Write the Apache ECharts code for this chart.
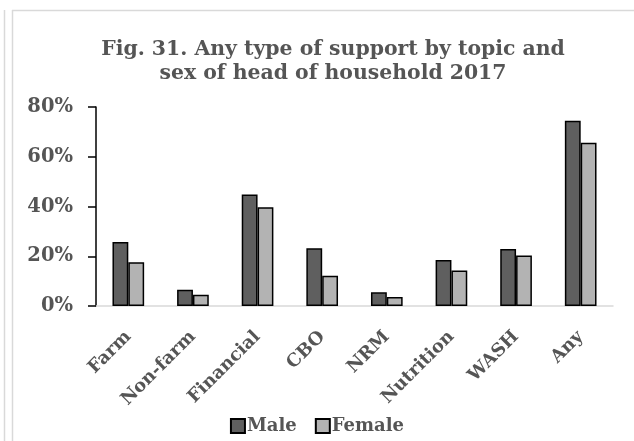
<!DOCTYPE html>
<html>
<head>
<meta charset="utf-8">
<script src="https://cdn.jsdelivr.net/npm/echarts@6/dist/echarts.min.js"></script>
<style>
  html, body { margin: 0; padding: 0; background: #fff; }
  #chart { width: 634px; height: 441px; }
</style>
</head>
<body>
<div id="chart"></div>
<script>
var categories = ['Farm', 'Non-farm', 'Financial', 'CBO', 'NRM', 'Nutrition', 'WASH', 'Any'];
var male = [25.7, 6.5, 44.8, 23.2, 5.5, 18.5, 22.9, 74.5];
var female = [17.6, 4.5, 39.7, 12.2, 3.6, 14.3, 20.3, 65.6];
var yTicks = [0, 20, 40, 60, 80];

var font = '"DejaVu Serif", serif';
var textGray = '#555555';

var chart = echarts.init(document.getElementById('chart'));
chart.setOption({
  backgroundColor: '#ffffff',
  animation: false,
  graphic: [
    { type: 'line', shape: { x1: 4.5, y1: 10, x2: 4.5, y2: 441 }, style: { stroke: '#d9d9d9', lineWidth: 1.5 } },
    { type: 'line', shape: { x1: 12.5, y1: 10, x2: 12.5, y2: 441 }, style: { stroke: '#d9d9d9', lineWidth: 1.5 } },
    { type: 'line', shape: { x1: 12, y1: 10.5, x2: 634, y2: 10.5 }, style: { stroke: '#d9d9d9', lineWidth: 1.5 } }
  ],
  title: {
    text: 'Fig. 31. Any type of support by topic and\nsex of head of household 2017',
    left: 328,
    top: 33,
    textAlign: 'center',
    textStyle: {
      fontFamily: font,
      fontWeight: 'bold',
      fontSize: 20.4,
      lineHeight: 24,
      color: textGray
    }
  },
  legend: {
    top: 412,
    left: 'center',
    itemWidth: 14,
    itemHeight: 14,
    itemGap: 18,
    icon: 'rect',
    textStyle: { fontFamily: font, fontWeight: 'bold', fontSize: 18, color: textGray, padding: [0, 0, 0, -3] },
    data: ['Male', 'Female']
  },
  grid: { left: 96, right: 21, top: 107, bottom: 135 },
  xAxis: {
    type: 'category',
    data: categories,
    axisLine: { lineStyle: { color: '#d9d9d9', width: 1.5 } },
    axisTick: { show: false },
    axisLabel: {
      rotate: 45,
      interval: 0,
      margin: 28,
      fontFamily: font,
      fontWeight: 'bold',
      fontSize: 18,
      color: textGray
    }
  },
  yAxis: {
    type: 'value',
    min: yTicks[0],
    max: yTicks[yTicks.length - 1],
    interval: 20,
    splitLine: { show: false },
    axisLine: { show: true, lineStyle: { color: '#000', width: 1.5 } },
    axisTick: { show: true, length: 8, lineStyle: { color: '#000', width: 1.5 } },
    axisLabel: {
      formatter: '{value}%',
      margin: 23,
      fontFamily: font,
      fontWeight: 'bold',
      fontSize: 19.5,
      color: textGray
    }
  },
  series: [
    {
      name: 'Male',
      type: 'bar',
      data: male,
      barWidth: '24.5%',
      barGap: '0%',
      itemStyle: { color: '#5f5f5f', borderColor: '#000', borderWidth: 1.5 }
    },
    {
      name: 'Female',
      type: 'bar',
      data: female,
      barWidth: '24.5%',
      itemStyle: { color: '#b3b3b3', borderColor: '#000', borderWidth: 1.5 }
    }
  ]
});
</script>
</body>
</html>
